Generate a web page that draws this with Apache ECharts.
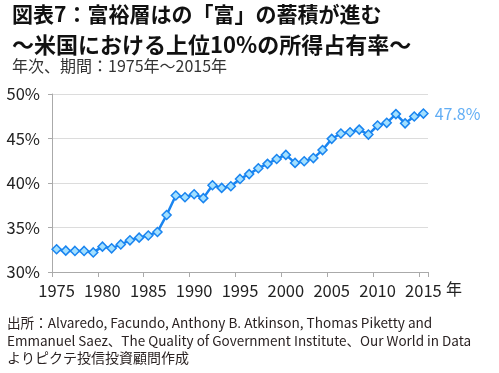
<!DOCTYPE html>
<html>
<head>
<meta charset="utf-8">
<script src="https://cdn.jsdelivr.net/npm/echarts@6/dist/echarts.min.js"></script>
<style>html,body{margin:0;padding:0;background:#fff;}#c{width:499px;height:373px;}</style>
</head>
<body>
<div id="c"></div>
<script>
var years = [];
for (var y = 1975; y <= 2015; y++) years.push(String(y));
var shares = [32.55,32.4,32.37,32.37,32.2,32.85,32.66,33.1,33.56,33.86,34.1,34.5,36.4,38.6,38.4,38.74,38.3,39.75,39.45,39.64,40.46,41.0,41.66,42.15,42.7,43.16,42.26,42.45,42.8,43.7,44.96,45.56,45.7,46.0,45.44,46.46,46.76,47.74,46.7,47.47,47.8];
var yTicks = [30,35,40,45,50];
var titleLines = ['図表7：富裕層はの「富」の蓄積が進む','～米国における上位10%の所得占有率～','年次、期間：1975年～2015年'];
var footLines = ['出所：Alvaredo, Facundo, Anthony B. Atkinson, Thomas Piketty and','Emmanuel Saez、The Quality of Government Institute、Our World in Data','よりピクテ投信投資顧問作成'];
var unitLabel = '年';

var FF = '"Noto Sans CJK JP", "Noto Sans", sans-serif';
var chart = echarts.init(document.getElementById('c'), null, {renderer: 'canvas'});
var lastIdx = shares.length - 1;
chart.setOption({
  animation: false,
  backgroundColor: '#fff',
  textStyle: {fontFamily: FF},
  grid: {left: 52, right: 71, top: 94, bottom: 101},
  xAxis: {
    type: 'category',
    data: years,
    boundaryGap: true,
    axisLine: {lineStyle: {color: '#aaaaaa', width: 1}},
    axisTick: {show: true, interval: 4, length: 5, lineStyle: {color: '#aaaaaa'}},
    axisLabel: {interval: 4, color: '#222', fontSize: 16.5, margin: 10, fontFamily: FF},
    splitLine: {show: false}
  },
  yAxis: {
    type: 'value',
    min: yTicks[0], max: yTicks[yTicks.length - 1], interval: 5,
    axisLine: {show: true, lineStyle: {color: '#aaaaaa', width: 1}},
    axisTick: {show: true, length: 4, lineStyle: {color: '#aaaaaa'}},
    axisLabel: {formatter: '{value}%', color: '#222', fontSize: 16.5, margin: 12, fontFamily: FF},
    splitLine: {lineStyle: {color: '#dcdcdc', width: 1}}
  },
  series: [{
    type: 'line',
    data: shares.map(function (v, i) {
      if (i === lastIdx) {
        return {value: v, label: {show: true, position: 'right', distance: 6, formatter: v.toFixed(1) + '%', color: '#62aef5', fontSize: 16, fontFamily: FF}};
      }
      return v;
    }),
    showAllSymbol: true,
    symbol: 'diamond',
    symbolSize: 9,
    lineStyle: {color: '#1a85f0', width: 2.5},
    itemStyle: {color: '#a3e0ff', borderColor: '#1a85f0', borderWidth: 1.5},
    z: 3
  }],
  graphic: [
    {type: 'text', left: 12, top: 4, style: {text: titleLines[0], font: 'bold 21px ' + FF, fill: '#111'}},
    {type: 'text', left: 12, top: 34, style: {text: titleLines[1], font: 'bold 22px ' + FF, fill: '#111'}},
    {type: 'text', left: 12, top: 58, style: {text: titleLines[2], font: '16px ' + FF, fill: '#333'}},
    {type: 'text', left: 446, top: 281, style: {text: unitLabel, font: '16px ' + FF, fill: '#222'}},
    {type: 'text', left: 7, top: 316, style: {text: footLines[0], font: '13.6px ' + FF, fill: '#2a2222'}},
    {type: 'text', left: 7, top: 334, style: {text: footLines[1], font: '13.5px ' + FF, fill: '#2a2222'}},
    {type: 'text', left: 7, top: 351, style: {text: footLines[2], font: '14px ' + FF, fill: '#2a2222'}}
  ]
});
</script>
</body>
</html>
